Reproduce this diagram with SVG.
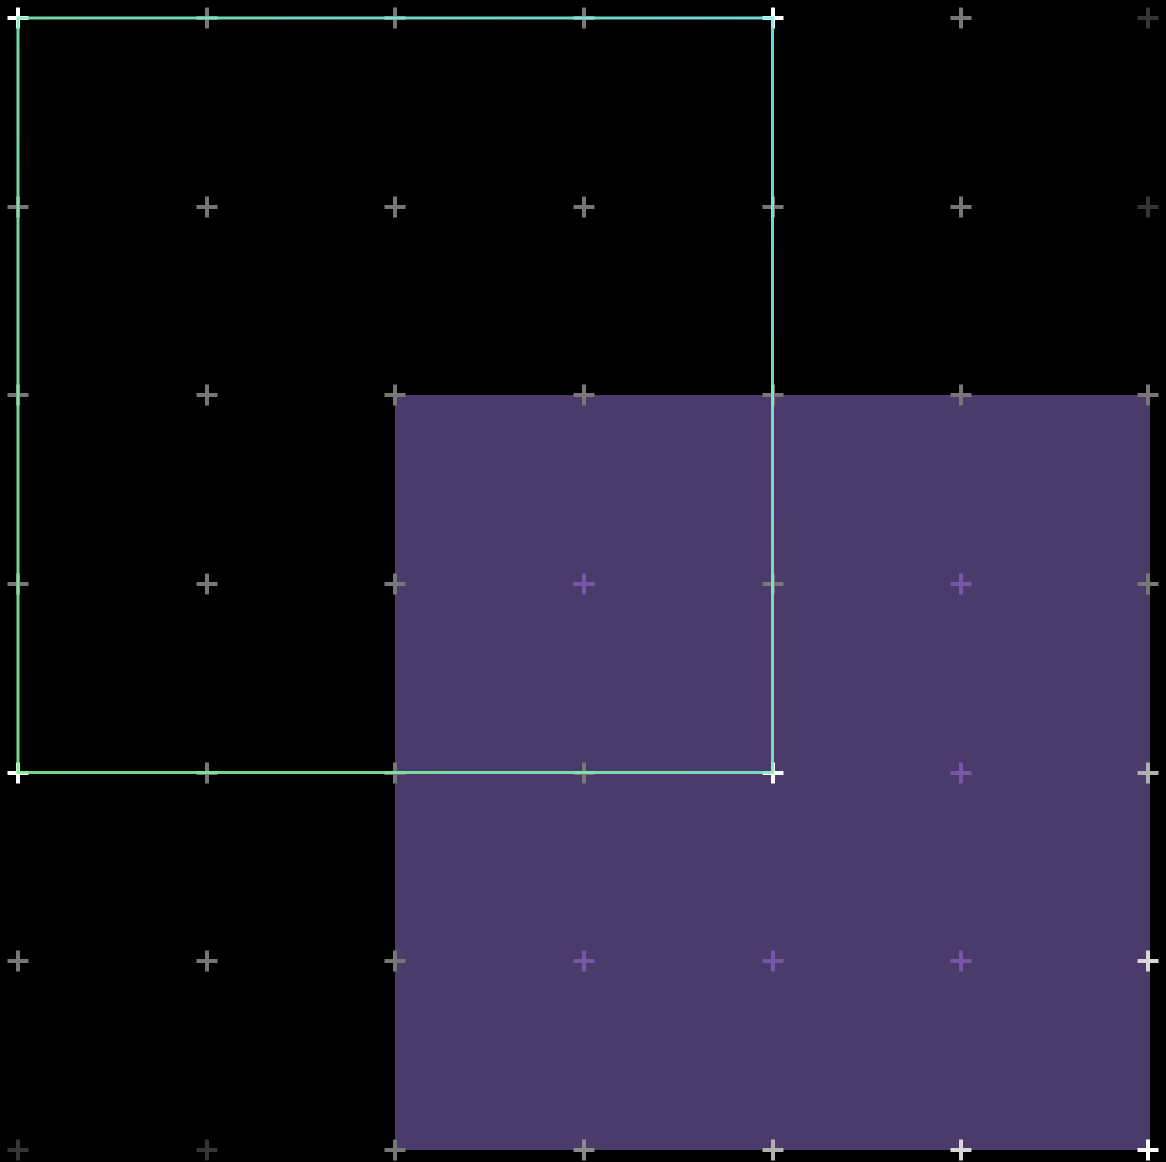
<svg xmlns="http://www.w3.org/2000/svg" xmlns:xlink="http://www.w3.org/1999/xlink" width="1166" height="1162" viewBox="0 0 1166 1162">
  <style>
    .g { stroke: #777777; }
    .d { stroke: #353535; }
    .w { stroke: #ffffff; }
    .l1 { stroke: #8a8a8a; }
    .l2 { stroke: #b0b0b0; }
    .l3 { stroke: #d8d8d8; }
    .p { stroke: #7656a8; }
    use { stroke-width: 4; fill: none; }
  </style>
  <defs>
    <path id="x" d="M-10.5 0H10.5M0 -10.5V10.5"/>
    <linearGradient id="og" gradientUnits="userSpaceOnUse" x1="772" y1="18" x2="18" y2="772">
      <stop offset="0" stop-color="#80ecec"/>
      <stop offset="1" stop-color="#80ec90"/>
    </linearGradient>
  </defs>
  <rect width="1166" height="1162" fill="#000000"/>
  <g id="area">
    <rect x="395" y="395" width="755" height="755" fill="#4b3b6b"/>
  </g>
  <g id="grid">
    <use href="#x" x="18" y="18" class="w"/>
    <use href="#x" x="207" y="18" class="g"/>
    <use href="#x" x="395" y="18" class="g"/>
    <use href="#x" x="584" y="18" class="g"/>
    <use href="#x" x="773" y="18" class="w"/>
    <use href="#x" x="961" y="18" class="g"/>
    <use href="#x" x="1148" y="18" class="d"/>

    <use href="#x" x="18" y="207" class="g"/>
    <use href="#x" x="207" y="207" class="g"/>
    <use href="#x" x="395" y="207" class="g"/>
    <use href="#x" x="584" y="207" class="g"/>
    <use href="#x" x="773" y="207" class="g"/>
    <use href="#x" x="961" y="207" class="g"/>
    <use href="#x" x="1148" y="207" class="d"/>

    <use href="#x" x="18" y="395" class="g"/>
    <use href="#x" x="207" y="395" class="g"/>
    <use href="#x" x="395" y="395" class="g"/>
    <use href="#x" x="584" y="395" class="g"/>
    <use href="#x" x="773" y="395" class="g"/>
    <use href="#x" x="961" y="395" class="g"/>
    <use href="#x" x="1148" y="395" class="g"/>

    <use href="#x" x="18" y="584" class="g"/>
    <use href="#x" x="207" y="584" class="g"/>
    <use href="#x" x="395" y="584" class="g"/>
    <use href="#x" x="584" y="584" class="p"/>
    <use href="#x" x="773" y="584" class="g"/>
    <use href="#x" x="961" y="584" class="p"/>
    <use href="#x" x="1148" y="584" class="g"/>

    <use href="#x" x="18" y="773" class="w"/>
    <use href="#x" x="207" y="773" class="g"/>
    <use href="#x" x="395" y="773" class="g"/>
    <use href="#x" x="584" y="773" class="g"/>
    <use href="#x" x="773" y="773" class="w"/>
    <use href="#x" x="961" y="773" class="p"/>
    <use href="#x" x="1148" y="773" class="l2"/>

    <use href="#x" x="18" y="961" class="g"/>
    <use href="#x" x="207" y="961" class="g"/>
    <use href="#x" x="395" y="961" class="g"/>
    <use href="#x" x="584" y="961" class="p"/>
    <use href="#x" x="773" y="961" class="p"/>
    <use href="#x" x="961" y="961" class="p"/>
    <use href="#x" x="1148" y="961" class="l3"/>

    <use href="#x" x="18" y="1150" class="d"/>
    <use href="#x" x="207" y="1150" class="d"/>
    <use href="#x" x="395" y="1150" class="g"/>
    <use href="#x" x="584" y="1150" class="l1"/>
    <use href="#x" x="773" y="1150" class="l2"/>
    <use href="#x" x="961" y="1150" class="l3"/>
    <use href="#x" x="1148" y="1150" class="w"/>
  </g>
  <g id="outline">
    <rect x="18" y="18" width="754.5" height="754.5" fill="none" stroke="url(#og)" stroke-width="3" stroke-opacity="0.9"/>
  </g>
</svg>
